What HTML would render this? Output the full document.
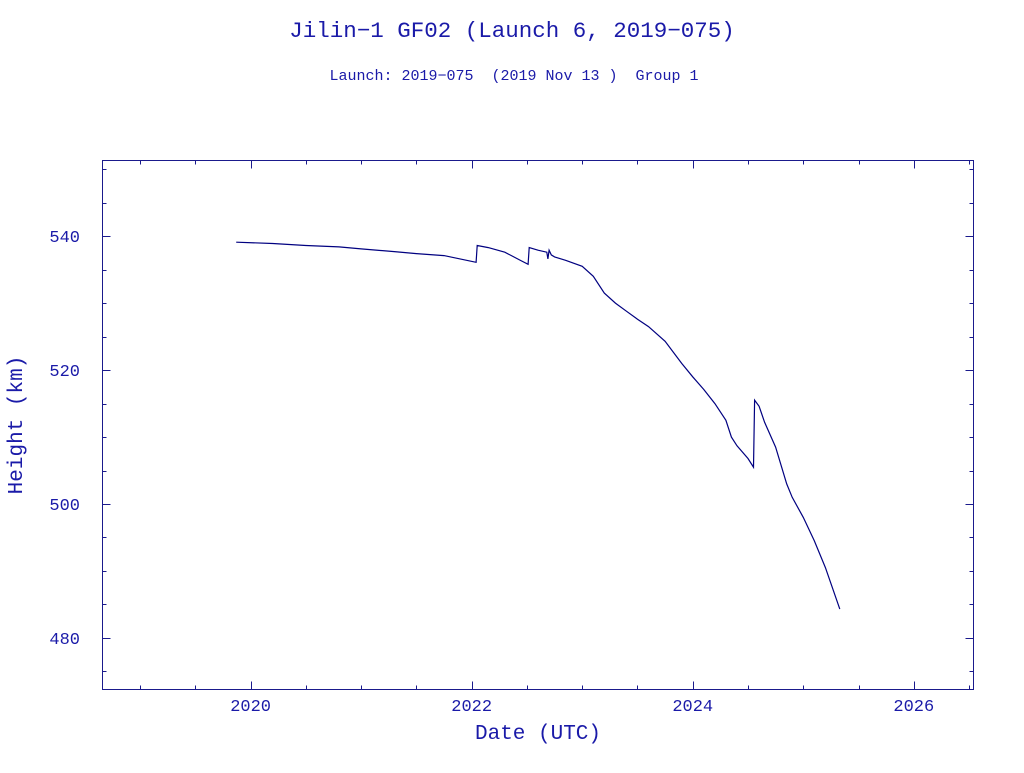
<!DOCTYPE html>
<html><head><meta charset="utf-8"><style>
body{margin:0;background:#fff;}
svg text{font-family:"Liberation Mono","DejaVu Sans Mono",monospace;fill:#1a1aa8;white-space:pre;}
</style></head><body>
<svg id="chart" width="1024" height="768" xmlns="http://www.w3.org/2000/svg">
<text x="512" y="37" font-size="22.5" text-anchor="middle" xml:space="preserve">Jilin−1 GF02 (Launch 6, 2019−075)</text>
<text x="514" y="80" font-size="15" text-anchor="middle" xml:space="preserve">Launch: 2019−075  (2019 Nov 13 )  Group 1</text>
<rect x="102.5" y="160.5" width="871" height="529" fill="none" stroke="#1a1a8c" stroke-width="1"/>
<g id="ticks"></g>
<text x="538" y="739" font-size="21" text-anchor="middle">Date (UTC)</text>
<text x="0" y="0" font-size="21" text-anchor="middle" transform="translate(22,425) rotate(-90)">Height (km)</text>
<path id="series" fill="none" stroke="#000080" stroke-width="1.2"/>
</svg>
<script>
const years=[2019.87,2020.2,2020.5,2020.8,2021.0,2021.3,2021.5,2021.75,2022.04,2022.05,2022.15,2022.3,2022.45,2022.51,2022.52,2022.6,2022.68,2022.69,2022.7,2022.72,2022.75,2022.85,2023.0,2023.1,2023.2,2023.3,2023.4,2023.5,2023.6,2023.75,2023.9,2024.0,2024.1,2024.2,2024.3,2024.35,2024.4,2024.5,2024.55,2024.56,2024.6,2024.65,2024.75,2024.85,2024.9,2025.0,2025.1,2025.2,2025.33];
const heights=[539.1,538.9,538.6,538.4,538.1,537.7,537.4,537.1,536.1,538.6,538.3,537.6,536.3,535.8,538.3,537.9,537.6,536.6,537.9,537.2,536.9,536.4,535.5,534.0,531.5,530.0,528.8,527.6,526.5,524.3,521.0,519.0,517.1,515.0,512.5,510.0,508.7,506.8,505.5,515.5,514.6,512.2,508.5,503.0,501.0,498.0,494.5,490.5,484.3];
const xTickLabels=[2020,2022,2024,2026];
const yTickLabels=[480,500,520,540];
const X0=102.5,X1=973.5,Y0=689.5,Y1=160.5;
const xMin=2018.66,xMax=2026.54,yMin=472.3,yMax=551.3;
const xs=v=>X0+(v-xMin)/(xMax-xMin)*(X1-X0);
const ys=v=>Y0-(v-yMin)/(yMax-yMin)*(Y0-Y1);
const NS="http://www.w3.org/2000/svg";
const g=document.getElementById('ticks');
function line(x1,y1,x2,y2,name){const l=document.createElementNS(NS,'line');
l.setAttribute('x1',x1);l.setAttribute('y1',y1);l.setAttribute('x2',x2);l.setAttribute('y2',y2);
l.setAttribute('stroke','#1a1a8c');


g.appendChild(l);}
function text(x,y,s,anchor,name){const t=document.createElementNS(NS,'text');
t.setAttribute('x',x);t.setAttribute('y',y);t.setAttribute('font-size','17');t.setAttribute('text-anchor',anchor);t.textContent=s;


g.appendChild(t);}
for(let v=2019;v<=2026.5;v+=0.5){const x=Math.round(xs(v))+0.5;const maj=(v%2===0);const L=maj?8:4;
line(x,Y0,x,Y0-L,'x-tick');line(x,Y1,x,Y1+L,'x-tick-top');}
for(let v=475;v<=550;v+=5){const y=Math.round(ys(v))+0.5;const maj=(v%20===0);const L=maj?8:4;
line(X0,y,X0+L,y,'y-tick');line(X1,y,X1-L,y,'y-tick-right');}
xTickLabels.forEach(v=>text(xs(v),711,String(v),'middle','x-tick-label'));
yTickLabels.forEach(v=>text(80,ys(v)+6,String(v),'end','y-tick-label'));
document.getElementById('series').setAttribute('d',years.map((v,i)=>(i?'L':'M')+xs(v).toFixed(1)+','+ys(heights[i]).toFixed(1)).join(''));
</script>
</body></html>
